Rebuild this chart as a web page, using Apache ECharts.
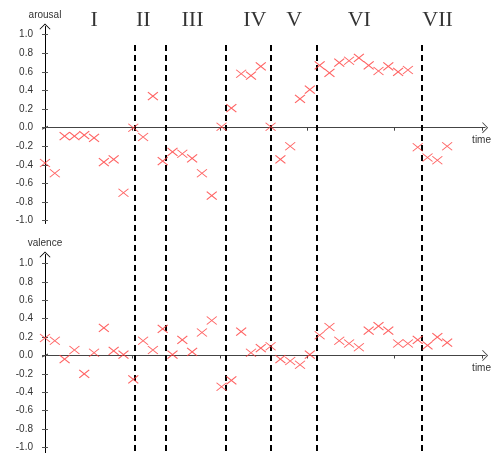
<!DOCTYPE html>
<html>
<head>
<meta charset="utf-8">
<script src="https://cdn.jsdelivr.net/npm/echarts@6/dist/echarts.min.js"></script>
<style>
  html, body { margin: 0; padding: 0; background: #ffffff; }
  #chart { width: 492px; height: 453px; }
</style>
</head>
<body>
<div id="chart"></div>
<script>
// ---- data ----
const time = [0,1,2,3,4,5,6,7,8,9,10,11,12,13,14,15,16,17,18,19,20,21,22,23,24,25,26,27,28,29,30,31,32,33,34,35,36,37,38,39,40,41];
const arousal = [-0.38,-0.49,-0.09,-0.09,-0.08,-0.11,-0.37,-0.34,-0.70,0.00,-0.10,0.34,-0.36,-0.26,-0.28,-0.33,-0.49,-0.73,0.01,0.21,0.58,0.56,0.66,0.01,-0.34,-0.20,0.31,0.41,0.67,0.59,0.70,0.72,0.75,0.67,0.61,0.66,0.60,0.62,-0.21,-0.32,-0.35,-0.20];
const valence = [0.19,0.16,-0.04,0.06,-0.20,0.03,0.30,0.05,0.01,-0.26,0.16,0.06,0.29,0.01,0.17,0.04,0.25,0.38,-0.34,-0.27,0.26,0.03,0.08,0.10,-0.04,-0.06,-0.10,0.01,0.22,0.31,0.16,0.13,0.09,0.27,0.32,0.27,0.13,0.13,0.17,0.11,0.20,0.14];
const yTickValues = [-1.0,-0.8,-0.6,-0.4,-0.2,0.0,0.2,0.4,0.6,0.8,1.0];
const xTickValues = [8.93,17.87,26.7,35.6,44.57];
const regionNames = ['I','II','III','IV','V','VI','VII'];
const regionLabelTime = [5.0,9.98,14.97,21.3,25.3,31.9,39.85];
const dividerTime = [9.14,12.25,18.38,22.94,27.54,38.24];
const axisNames = ['arousal','valence'];
const xAxisName = 'time';

// ---- layout / style ----
const X_MAX = 44.87;
const CHEVRON = 'path://M55,0 L110,54 L104,60 L55,12 L6,60 L0,54 Z';
const SLASH = 'path://M0,0 L0.1,0 L0,0.1 Z M110,60 L109.9,60 L110,59.9 Z M35,0 L47,0 L75,60 L63,60 Z';
const CROSS = 'path://M0,0 L10,8 M10,0 L0,8';
const RED = '#ff3b3b';
const TXT = '#333';
const CLEAR = 'rgba(0,0,0,0)';
const RANGES = [[-1.03, 1.088], [-1.06, 1.098]];

const chart = echarts.init(document.getElementById('chart'), null, { renderer: 'canvas' });

function xAx(gridIndex) {
  return {
    type: 'value', gridIndex, min: 0, max: X_MAX,
    axisLine: { onZero: true, lineStyle: { color: '#444', width: 1 }, symbol: [SLASH, CHEVRON], symbolSize: [11, 6] },
    axisTick: { show: true, length: 3, customValues: xTickValues, lineStyle: { color: '#444' } },
    axisLabel: { show: false },
    splitLine: { show: false },
    name: xAxisName,
    nameLocation: 'end', nameGap: -13,
    nameTextStyle: { fontFamily: 'Liberation Sans', fontSize: 10, color: TXT, align: 'left', verticalAlign: 'top', padding: [8, 0, 0, 0] }
  };
}
function xAxInner(gridIndex) {
  return {
    type: 'value', gridIndex, min: 0, max: X_MAX,
    axisLine: { onZero: true, lineStyle: { color: CLEAR, width: 1 }, symbol: 'none' },
    axisTick: { show: true, inside: true, length: 2, customValues: xTickValues, lineStyle: { color: '#444' } },
    axisLabel: { show: false }, splitLine: { show: false }
  };
}
function yAx(gridIndex, name, range) {
  return {
    type: 'value', gridIndex, min: range[0], max: range[1],
    axisLine: { show: true, onZero: false, lineStyle: { color: '#000', width: 1 }, symbol: ['none', CHEVRON], symbolSize: [11, 6] },
    axisTick: { show: true, length: 3, customValues: yTickValues, lineStyle: { color: '#555' } },
    axisLabel: { show: true, customValues: yTickValues, margin: 12, fontFamily: 'Liberation Sans', fontSize: 10, color: TXT,
      formatter: v => Number(v).toFixed(1) },
    splitLine: { show: false },
    name, nameLocation: 'end', nameGap: 6,
    nameTextStyle: { fontFamily: 'Liberation Sans', fontSize: 10, color: TXT, align: 'center' }
  };
}
function yAxInner(gridIndex, range) {
  return {
    type: 'value', gridIndex, min: range[0], max: range[1], position: 'left',
    axisLine: { show: true, onZero: false, lineStyle: { color: CLEAR, width: 1 }, symbol: 'none' },
    axisTick: { show: true, inside: true, length: 3, customValues: yTickValues, lineStyle: { color: '#555' } },
    axisLabel: { show: false }, splitLine: { show: false }
  };
}

const option = {
  animation: false,
  backgroundColor: '#ffffff',
  grid: [
    { left: 45, right: 5, top: 26.5, height: 197 },
    { left: 45, right: 5, top: 254.5, height: 198.5 },
    { left: 45, right: 5, top: 0, bottom: 0 }
  ],
  xAxis: [
    xAx(0),
    xAx(1),
    { type: 'value', gridIndex: 2, min: 0, max: X_MAX, show: false },
    xAxInner(0),
    xAxInner(1)
  ],
  yAxis: [
    yAx(0, axisNames[0], RANGES[0]),
    yAx(1, axisNames[1], RANGES[1]),
    { type: 'value', gridIndex: 2, min: 0, max: 1, inverse: true, show: false },
    yAxInner(0, RANGES[0]),
    yAxInner(1, RANGES[1])
  ],
  series: [
    {
      type: 'scatter', xAxisIndex: 0, yAxisIndex: 0,
      data: time.map((t, i) => [t, arousal[i]]),
      symbol: CROSS, symbolSize: [10, 8],
      itemStyle: { color: 'none', borderColor: RED, borderWidth: 1 },
      z: 5
    },
    {
      type: 'scatter', xAxisIndex: 1, yAxisIndex: 1,
      data: time.map((t, i) => [t, valence[i]]),
      symbol: CROSS, symbolSize: [10, 8],
      itemStyle: { color: 'none', borderColor: RED, borderWidth: 1 },
      z: 5
    },
    {
      type: 'scatter', xAxisIndex: 2, yAxisIndex: 2,
      data: regionNames.map((n, i) => ({ name: n, value: [regionLabelTime[i], 20 / 453] })),
      symbolSize: 0,
      label: { show: true, position: 'inside', formatter: p => p.name,
        fontFamily: 'Liberation Serif', fontSize: 22, color: '#000' },
      markLine: {
        silent: true, symbol: ['none', 'none'],
        label: { show: false },
        lineStyle: { color: '#000', width: 2, type: [6, 4] },
        data: dividerTime.map(v => [{ coord: [v, 45 / 453] }, { coord: [v, 1] }])
      },
      z: 3
    }
  ]
};
chart.setOption(option);
</script>
</body>
</html>
